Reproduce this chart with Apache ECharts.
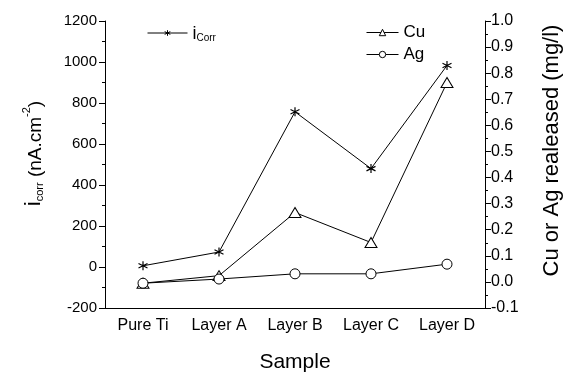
<!DOCTYPE html>
<html>
<head>
<meta charset="utf-8">
<script src="https://cdn.jsdelivr.net/npm/echarts@6/dist/echarts.min.js"></script>
<style>
  html, body { margin: 0; padding: 0; background: #fff; }
  #chart { width: 565px; height: 375px; }
</style>
</head>
<body>
<div id="chart"></div>
<script>
// sample names along the x axis
var samples = ['Pure Ti', 'Layer A', 'Layer B', 'Layer C', 'Layer D'];
// corrosion current density, nA.cm-2 (left axis)
var iCorr = [6, 73, 757, 480, 983];
// released ions, mg/l (right axis)
var cu = [-0.005, 0.024, 0.266, 0.151, 0.764];
var ag = [-0.005, 0.011, 0.031, 0.031, 0.068];

var font = 'Liberation Sans, Arial, sans-serif';
var star = 'path://M0,-5L0,5M-4.33,-2.5L4.33,2.5M-4.33,2.5L4.33,-2.5';

var chart = echarts.init(document.getElementById('chart'));
chart.setOption({
  animation: false,
  textStyle: { fontFamily: font, color: '#000' },
  grid: { left: 105, right: 80, top: 21, bottom: 67, outerBoundsMode: 'none' },
  legend: [
    {
      data: ['iCorr'],
      left: 142, top: 18,
      itemWidth: 40, itemHeight: 7, itemGap: 6,
      lineStyle: { width: 1 },
      itemStyle: { borderWidth: 1 },
      formatter: function () { return '{i|i}{s|Corr}'; },
      textStyle: {
        fontFamily: font, color: '#000',
        rich: {
          i: { fontSize: 18, fontFamily: font, lineHeight: 20, verticalAlign: 'bottom' },
          s: { fontSize: 10, fontFamily: font, lineHeight: 20, verticalAlign: 'bottom', padding: [10, 0, 0, 0] }
        }
      }
    },
    {
      data: ['Cu', 'Ag'],
      orient: 'vertical',
      left: 361, top: 19,
      itemWidth: 32, itemHeight: 8, itemGap: 5,
      lineStyle: { width: 1 },
      itemStyle: { borderWidth: 1 },
      textStyle: { fontFamily: font, fontSize: 17, color: '#000' }
    }
  ],
  xAxis: [
    {
      type: 'category',
      data: samples,
      position: 'bottom',
      name: 'Sample',
      nameLocation: 'middle',
      nameGap: 44,
      nameTextStyle: { fontFamily: font, fontSize: 21, color: '#000' },
      axisLine: { onZero: false, lineStyle: { color: '#000', width: 1 } },
      axisTick: { alignWithLabel: true, length: 6, lineStyle: { color: '#000' } },
      axisLabel: { interval: 0, fontFamily: font, fontSize: 16, color: '#000', margin: 10 },
      splitLine: { show: false }
    },
    {
      type: 'category',
      data: samples,
      position: 'bottom',
      axisLine: { show: false, onZero: false },
      axisTick: { length: 3, lineStyle: { color: '#000' } },
      axisLabel: { show: false },
      splitLine: { show: false }
    }
  ],
  yAxis: [
    {
      type: 'value',
      min: -200, max: 1200, interval: 200,
      position: 'left',
      name: '{i|i}{s|corr}{t| (nA.cm}{p|-2}{t|)}',
      nameLocation: 'middle',
      nameRotate: 90,
      nameGap: 60,
      nameTextStyle: {
        fontFamily: font, color: '#000',
        padding: [0, 0, 0, 22],
        rich: {
          i: { fontSize: 22, fontFamily: font, lineHeight: 24, verticalAlign: 'bottom' },
          s: { fontSize: 11, fontFamily: font, lineHeight: 24, verticalAlign: 'bottom', padding: [11, 0, 0, 0] },
          t: { fontSize: 19, fontFamily: font, lineHeight: 24, verticalAlign: 'bottom' },
          p: { fontSize: 11, fontFamily: font, lineHeight: 24, verticalAlign: 'top', padding: [0, 0, 9, 0] }
        }
      },
      axisLine: { show: true, lineStyle: { color: '#000', width: 1 } },
      axisTick: { show: true, length: 6, lineStyle: { color: '#000' } },
      minorTick: { show: true, splitNumber: 2, length: 3, lineStyle: { color: '#000' } },
      axisLabel: {
        fontFamily: font, fontSize: 15, color: '#000', margin: 8,
        formatter: function (v) { return String(v); }
      },
      splitLine: { show: false }
    },
    {
      type: 'value',
      min: -0.1, max: 1.0, interval: 0.1,
      position: 'right',
      name: 'Cu or Ag realeased (mg/l)',
      nameLocation: 'middle',
      nameRotate: 90,
      nameGap: 56,
      nameTextStyle: { fontFamily: font, fontSize: 22, color: '#000', padding: [0, 0, 0, 28] },
      axisLine: { show: true, lineStyle: { color: '#000', width: 1 } },
      axisTick: { show: true, length: 6, lineStyle: { color: '#000' } },
      minorTick: { show: true, splitNumber: 2, length: 3, lineStyle: { color: '#000' } },
      axisLabel: {
        fontFamily: font, fontSize: 16, color: '#000', margin: 6,
        formatter: function (v) { return v.toFixed(1); }
      },
      splitLine: { show: false }
    }
  ],
  series: [
    {
      name: 'iCorr',
      type: 'line',
      xAxisIndex: 0, yAxisIndex: 0,
      data: iCorr,
      symbol: star, symbolSize: 9,
      itemStyle: { color: '#000', borderColor: '#000', borderWidth: 1.2 },
      lineStyle: { color: '#000', width: 1 }
    },
    {
      name: 'Cu',
      type: 'line',
      xAxisIndex: 0, yAxisIndex: 1,
      data: cu,
      symbol: 'triangle', symbolSize: [12, 10],
      itemStyle: { color: '#fff', borderColor: '#000', borderWidth: 1 },
      lineStyle: { color: '#000', width: 1 }
    },
    {
      name: 'Ag',
      type: 'line',
      xAxisIndex: 0, yAxisIndex: 1,
      data: ag,
      symbol: 'circle', symbolSize: 10,
      itemStyle: { color: '#fff', borderColor: '#000', borderWidth: 1 },
      lineStyle: { color: '#000', width: 1 }
    }
  ]
});
</script>
</body>
</html>
